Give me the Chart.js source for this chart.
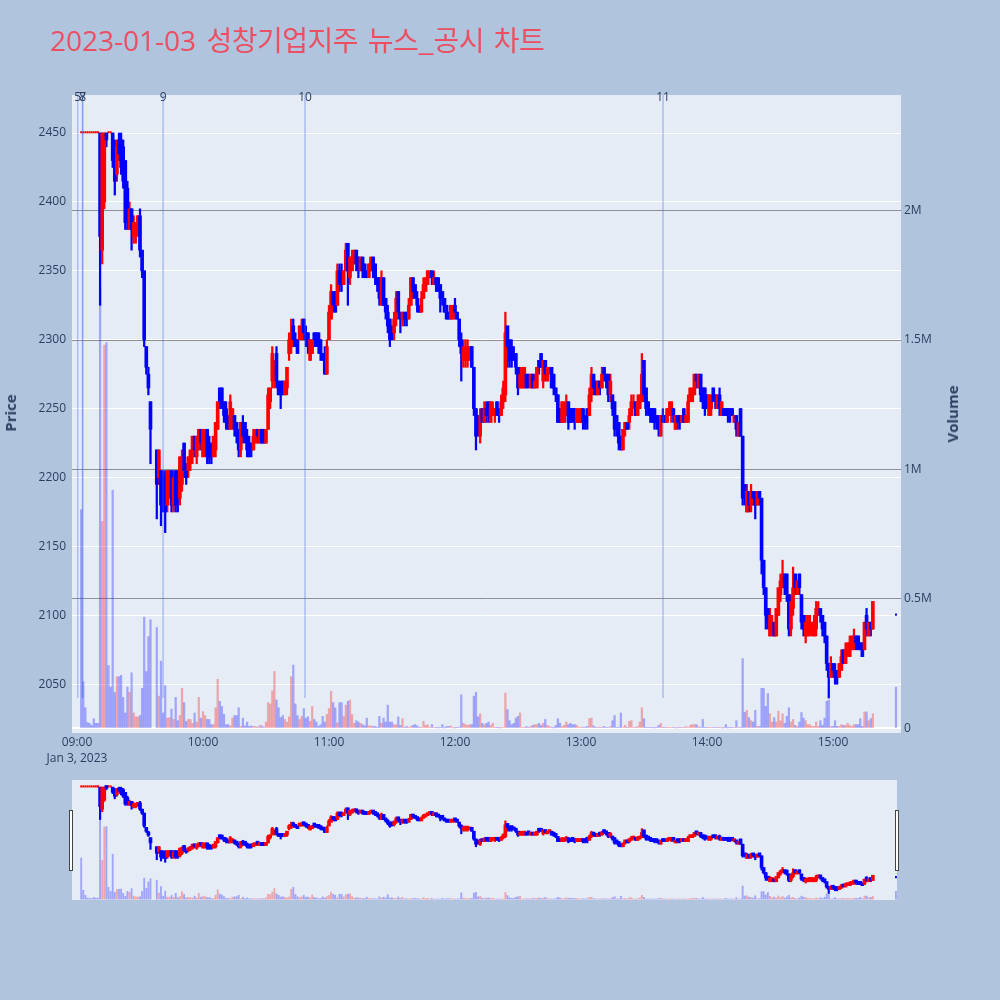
<!DOCTYPE html>
<html><head><meta charset="utf-8">
<script src="https://cdn.jsdelivr.net/npm/chart.js@4.4.0/dist/chart.umd.min.js"></script>
<style>
html,body{margin:0;padding:0;background:#b0c4de;width:1000px;height:1000px;overflow:hidden;font-family:"Open Sans","Noto Sans CJK KR",sans-serif;}
#wrap{position:relative;width:1000px;height:1000px;}
#main{position:absolute;left:0;top:0;}
#slider{position:absolute;left:72px;top:780px;}
.title{position:absolute;left:50px;top:25px;font-size:28px;line-height:28px;color:#ec4f62;white-space:nowrap;word-spacing:3px;}
.ko{font-family:"Noto Sans CJK KR","Open Sans",sans-serif;letter-spacing:-0.5px;word-spacing:4px;}
.axt{position:absolute;font-size:15px;font-weight:bold;color:#2a3f5f;white-space:nowrap;transform:translate(-50%,-50%) rotate(-90deg);}
.news{position:absolute;top:90px;font-size:12px;line-height:14px;color:#2a3f5f;transform:translateX(-50%);}
.handle{position:absolute;top:810px;width:2px;height:59px;background:#fff;border:1px solid #444;}
</style></head><body>
<div id="wrap">
<canvas id="main" width="1000" height="1000"></canvas>
<canvas id="slider" width="825" height="120"></canvas>
<div class="title">2023-01-03 <span class="ko">성창기업지주 뉴스_공시 차트</span></div>
<div class="axt" style="left:10px;top:413px;">Price</div>
<div class="axt" style="left:952px;top:414px;">Volume</div>
<div class="handle" style="left:69px;"></div>
<div class="handle" style="left:895px;"></div>
</div>
<script>
// ---------------- DATA ----------------
const times = [
'09:02','09:03','09:04','09:05','09:06','09:07','09:08','09:09',
'09:10','09:11','09:12','09:13','09:14','09:15','09:16','09:17','09:18','09:19',
'09:20','09:21','09:22','09:23','09:24','09:25','09:26','09:27','09:28','09:29',
'09:30','09:31','09:32','09:33','09:34','09:35','09:38','09:39',
'09:40','09:41','09:42','09:43','09:44','09:45','09:46','09:47','09:48','09:49',
'09:50','09:51','09:52','09:53','09:54','09:55','09:56','09:57','09:58','09:59',
'10:00','10:01','10:02','10:03','10:04','10:05','10:06','10:07','10:08','10:09',
'10:10','10:11','10:12','10:13','10:14','10:15','10:16','10:17','10:18','10:19',
'10:20','10:21','10:22','10:23','10:24','10:25','10:26','10:27','10:28','10:29',
'10:30','10:31','10:32','10:33','10:34','10:35','10:36','10:37','10:38','10:39',
'10:40','10:41','10:42','10:43','10:44','10:45','10:46','10:47','10:48','10:49',
'10:50','10:51','10:52','10:53','10:54','10:55','10:56','10:57','10:58','10:59',
'11:00','11:01','11:02','11:03','11:04','11:05','11:06','11:07','11:08','11:09',
'11:10','11:11','11:12','11:13','11:14','11:15','11:16','11:17','11:18','11:19',
'11:20','11:21','11:22','11:23','11:24','11:25','11:26','11:27','11:28','11:29',
'11:30','11:31','11:32','11:33','11:34','11:35','11:36','11:37','11:38','11:39',
'11:40','11:41','11:42','11:43','11:44','11:45','11:46','11:47','11:48','11:49',
'11:50','11:51','11:52','11:53','11:54','11:55','11:56','11:57','11:58','11:59',
'12:00','12:01','12:02','12:03','12:04','12:05','12:06','12:07','12:08','12:09',
'12:10','12:11','12:12','12:13','12:14','12:15','12:16','12:17','12:18','12:19',
'12:20','12:21','12:22','12:23','12:24','12:25','12:26','12:27','12:28','12:29',
'12:30','12:31','12:32','12:33','12:34','12:35','12:36','12:37','12:38','12:39',
'12:40','12:41','12:42','12:43','12:44','12:45','12:46','12:47','12:48','12:49',
'12:50','12:51','12:52','12:53','12:54','12:55','12:56','12:57','12:58','12:59',
'13:00','13:01','13:02','13:03','13:04','13:05','13:06','13:07','13:08','13:09',
'13:10','13:11','13:12','13:13','13:14','13:15','13:16','13:17','13:18','13:19',
'13:20','13:21','13:22','13:23','13:24','13:25','13:26','13:27','13:28','13:29',
'13:30','13:31','13:32','13:33','13:34','13:35','13:36','13:37','13:38','13:39',
'13:40','13:41','13:42','13:43','13:44','13:45','13:46','13:47','13:48','13:49',
'13:50','13:51','13:52','13:53','13:54','13:55','13:56','13:57','13:58','13:59',
'14:00','14:01','14:02','14:03','14:04','14:05','14:06','14:07','14:08','14:09',
'14:10','14:11','14:12','14:13','14:14','14:15','14:16','14:17','14:18','14:19',
'14:20','14:21','14:22','14:23','14:24','14:25','14:26','14:27','14:28','14:29',
'14:30','14:31','14:32','14:33','14:34','14:35','14:36','14:37','14:38','14:39',
'14:40','14:41','14:42','14:43','14:44','14:45','14:46','14:47','14:48','14:49',
'14:50','14:51','14:52','14:53','14:54','14:55','14:56','14:57','14:58','14:59',
'15:00','15:01','15:02','15:03','15:04','15:05','15:06','15:07','15:08','15:09',
'15:10','15:11','15:12','15:13','15:14','15:15','15:16','15:17','15:18','15:19',
'15:30'];

const opens = [
2450,2450,2450,2450,2450,2450,2450,2450,
2450,2450,2365,2400,2450,2450,2450,2450,2440,2420,
2445,2445,2440,2430,2410,2380,2395,2375,2375,2380,
2390,2365,2350,2295,2275,2255,2220,2200,
2205,2200,2190,2180,2185,2205,2180,2205,2195,2185,
2195,2225,2210,2205,2210,2215,2230,2215,2220,2235,
2215,2220,2235,2225,2225,2215,2220,2235,2265,2265,
2255,2250,2245,2235,2240,2245,2240,2230,2220,2240,
2240,2230,2225,2225,2220,2225,2235,2225,2235,2230,
2225,2235,2255,2270,2270,2290,2270,2265,2270,2260,
2265,2290,2295,2310,2300,2300,2300,2300,2315,2305,
2305,2285,2290,2305,2305,2305,2300,2290,2290,2275,
2300,2315,2335,2335,2325,2350,2350,2340,2350,2370,
2345,2350,2355,2365,2360,2350,2360,2355,2350,2345,
2350,2360,2355,2345,2345,2325,2345,2330,2320,2315,
2310,2305,2315,2335,2320,2315,2320,2320,2315,2325,
2345,2340,2330,2325,2320,2330,2335,2340,2345,2350,
2340,2345,2345,2340,2335,2330,2325,2320,2315,2315,
2325,2320,2315,2300,2285,2285,2285,2285,2295,2280,
2250,2245,2230,2250,2240,2250,2255,2240,2245,2245,
2255,2250,2245,2255,2260,2310,2300,2295,2290,2290,
2280,2265,2265,2265,2275,2275,2265,2275,2265,2265,
2285,2290,2270,2285,2270,2275,2280,2275,2265,2260,
2250,2240,2240,2245,2255,2250,2250,2250,2240,2240,
2240,2250,2245,2250,2245,2260,2275,2270,2260,2270,
2265,2280,2275,2275,2260,2260,2255,2245,2240,2230,
2220,2235,2240,2240,2245,2250,2255,2245,2250,2255,
2285,2265,2255,2250,2250,2250,2245,2245,2230,2245,
2245,2240,2245,2245,2250,2235,2245,2245,2240,2250,
2240,2240,2255,2255,2260,2275,2265,2275,2265,2265,
2260,2245,2250,2265,2260,2250,2260,2245,2250,2250,
2250,2250,2250,2240,2245,2230,2250,2230,2195,2175,
2190,2180,2190,2185,2180,2190,2185,2140,2120,2105,
2085,2090,2095,2085,2100,2115,2120,2130,2130,2115,
2090,2105,2130,2115,2130,2115,2100,2085,2085,2090,
2090,2085,2090,2100,2105,2100,2095,2085,2065,2055,
2065,2060,2060,2055,2060,2075,2065,2070,2070,2075,
2080,2085,2085,2080,2080,2075,2100,2085,2095,2090,
2100];

const highs = [
2450,2450,2450,2450,2450,2450,2450,2450,
2450,2450,2450,2450,2450,2450,2450,2450,2445,2445,
2450,2450,2445,2430,2415,2400,2395,2390,2385,2390,
2395,2365,2350,2295,2280,2255,2220,2220,
2205,2205,2205,2205,2205,2205,2205,2205,2205,2215,
2220,2225,2210,2215,2220,2230,2230,2230,2235,2235,
2235,2235,2235,2230,2225,2230,2240,2255,2265,2265,
2255,2255,2245,2260,2250,2245,2240,2235,2240,2245,
2240,2235,2230,2225,2235,2235,2235,2235,2235,2235,
2235,2265,2265,2295,2285,2295,2270,2270,2270,2270,
2280,2305,2315,2315,2305,2300,2310,2315,2315,2310,
2305,2300,2300,2305,2305,2305,2300,2290,2295,2300,
2325,2340,2335,2335,2355,2355,2355,2350,2370,2370,
2360,2365,2365,2365,2360,2360,2360,2355,2350,2355,
2360,2360,2355,2345,2345,2350,2345,2330,2325,2315,
2310,2320,2335,2335,2320,2320,2320,2320,2330,2345,
2345,2340,2335,2325,2335,2345,2345,2350,2350,2350,
2350,2345,2345,2340,2335,2330,2325,2320,2325,2325,
2330,2320,2315,2305,2300,2300,2300,2295,2295,2280,
2250,2245,2250,2250,2255,2255,2255,2255,2255,2250,
2255,2250,2260,2270,2320,2310,2300,2300,2295,2290,
2280,2280,2280,2280,2275,2275,2275,2275,2275,2280,
2285,2290,2285,2285,2280,2280,2280,2275,2265,2260,
2250,2255,2255,2260,2255,2250,2250,2250,2250,2250,
2250,2250,2245,2250,2265,2280,2275,2270,2270,2270,
2280,2280,2275,2275,2275,2260,2255,2245,2240,2230,
2235,2240,2240,2250,2260,2260,2255,2260,2260,2290,
2285,2265,2255,2250,2250,2250,2245,2245,2245,2250,
2245,2250,2255,2255,2250,2245,2245,2245,2245,2250,
2245,2260,2265,2265,2275,2275,2275,2275,2265,2265,
2260,2260,2260,2265,2260,2260,2265,2255,2250,2250,
2250,2250,2250,2245,2245,2240,2250,2230,2195,2195,
2190,2195,2190,2190,2190,2190,2185,2140,2120,2105,
2105,2100,2095,2105,2120,2130,2140,2130,2130,2115,
2115,2135,2130,2125,2130,2115,2100,2100,2100,2100,
2095,2100,2110,2110,2105,2100,2095,2085,2065,2070,
2065,2065,2060,2065,2075,2075,2080,2080,2085,2085,
2090,2085,2085,2080,2080,2095,2105,2095,2095,2110,
2100];

const lows = [
2450,2450,2450,2450,2450,2450,2450,2450,
2450,2325,2355,2395,2440,2450,2450,2425,2405,2415,
2430,2420,2410,2380,2380,2380,2365,2370,2370,2375,
2360,2345,2295,2275,2260,2210,2170,2195,
2165,2175,2160,2175,2185,2175,2175,2175,2175,2180,
2190,2200,2195,2200,2205,2210,2215,2210,2220,2220,
2215,2215,2210,2210,2210,2215,2215,2235,2250,2250,
2240,2235,2235,2235,2235,2230,2225,2215,2215,2225,
2225,2215,2215,2215,2220,2225,2225,2225,2225,2225,
2225,2235,2250,2265,2265,2265,2260,2250,2260,2260,
2260,2285,2290,2295,2295,2290,2300,2300,2300,2295,
2290,2285,2290,2295,2295,2290,2285,2285,2275,2275,
2300,2315,2320,2320,2325,2335,2335,2340,2350,2325,
2340,2350,2355,2350,2345,2350,2345,2345,2345,2345,
2350,2345,2340,2335,2325,2325,2325,2315,2305,2295,
2300,2300,2310,2315,2305,2310,2310,2310,2315,2325,
2330,2330,2320,2320,2320,2330,2335,2340,2345,2340,
2340,2335,2335,2320,2325,2320,2315,2315,2315,2315,
2315,2315,2295,2270,2280,2280,2280,2285,2280,2245,
2220,2230,2225,2240,2240,2240,2240,2240,2245,2240,
2245,2240,2245,2250,2255,2280,2280,2280,2285,2275,
2260,2265,2265,2265,2265,2265,2265,2265,2265,2265,
2275,2280,2265,2270,2270,2275,2265,2260,2255,2240,
2240,2240,2240,2245,2235,2240,2240,2235,2240,2240,
2240,2235,2235,2235,2245,2255,2260,2260,2260,2260,
2265,2270,2265,2255,2255,2245,2230,2230,2220,2220,
2220,2230,2235,2235,2245,2250,2245,2245,2250,2255,
2255,2245,2245,2240,2240,2235,2235,2230,2230,2240,
2240,2240,2245,2240,2240,2235,2235,2235,2240,2240,
2240,2240,2255,2255,2260,2265,2265,2255,2250,2245,
2250,2245,2245,2255,2250,2250,2245,2245,2245,2245,
2240,2240,2245,2240,2230,2230,2230,2180,2180,2175,
2175,2175,2180,2170,2180,2180,2130,2115,2090,2090,
2085,2085,2085,2085,2100,2110,2120,2115,2110,2085,
2085,2100,2115,2115,2115,2090,2085,2080,2085,2085,
2085,2085,2085,2100,2095,2085,2080,2060,2040,2055,
2055,2050,2050,2055,2060,2065,2065,2070,2070,2075,
2075,2075,2075,2075,2070,2075,2085,2085,2085,2090,
2100];

const closes = [
2450,2450,2450,2450,2450,2450,2450,2450,
2450,2375,2450,2450,2445,2450,2450,2430,2415,2440,
2435,2425,2415,2385,2390,2395,2380,2385,2385,2390,
2365,2350,2300,2280,2265,2235,2195,2220,
2180,2185,2175,2205,2205,2180,2200,2180,2185,2215,
2215,2205,2200,2215,2220,2230,2220,2230,2235,2225,
2235,2230,2215,2215,2215,2230,2240,2255,2255,2250,
2245,2240,2235,2255,2250,2235,2230,2220,2240,2230,
2230,2220,2215,2220,2230,2235,2230,2235,2225,2225,
2235,2260,2265,2290,2280,2270,2260,2260,2260,2270,
2280,2300,2305,2300,2295,2290,2310,2310,2305,2300,
2295,2300,2300,2300,2295,2295,2290,2285,2275,2295,
2320,2335,2325,2320,2350,2340,2340,2350,2365,2350,
2360,2360,2365,2355,2350,2360,2350,2345,2345,2355,
2360,2350,2345,2340,2330,2345,2325,2320,2310,2300,
2305,2315,2330,2320,2315,2320,2315,2315,2325,2345,
2335,2330,2325,2320,2330,2340,2345,2350,2350,2345,
2345,2340,2335,2330,2330,2320,2315,2315,2325,2320,
2320,2315,2300,2290,2295,2290,2295,2295,2280,2250,
2230,2235,2245,2240,2250,2245,2245,2255,2250,2250,
2245,2245,2255,2265,2305,2295,2285,2290,2285,2280,
2265,2275,2275,2280,2265,2270,2275,2265,2270,2280,
2280,2280,2285,2275,2280,2280,2265,2265,2260,2240,
2240,2255,2250,2255,2240,2240,2245,2240,2250,2245,
2250,2240,2240,2245,2260,2275,2265,2260,2270,2265,
2275,2275,2270,2260,2270,2250,2235,2235,2225,2220,
2235,2240,2235,2245,2255,2255,2245,2255,2260,2275,
2260,2250,2250,2245,2240,2240,2240,2235,2245,2240,
2240,2250,2250,2255,2245,2245,2240,2240,2245,2240,
2245,2255,2265,2260,2275,2270,2275,2260,2255,2250,
2250,2260,2255,2255,2255,2260,2250,2255,2245,2245,
2245,2245,2245,2245,2235,2240,2230,2185,2185,2190,
2180,2190,2185,2180,2190,2185,2140,2120,2100,2095,
2100,2095,2085,2105,2120,2125,2130,2120,2115,2090,
2110,2120,2120,2125,2120,2095,2090,2095,2095,2095,
2095,2095,2105,2105,2100,2090,2085,2065,2055,2065,
2060,2055,2055,2065,2070,2065,2075,2080,2080,2085,
2085,2080,2075,2075,2070,2095,2090,2095,2090,2110,
2100];

const volumes = [
845000,180000,80000,23000,20000,12000,38000,20000,
20000,1700000,800000,1480000,1490000,243000,160000,920000,140000,200000,
200000,205000,120000,60000,160000,140000,215000,60000,45000,45000,
50000,155000,430000,220000,355000,420000,390000,125000,
260000,60000,165000,40000,42000,75000,35000,120000,30000,50000,
155000,100000,27000,35000,35000,20000,60000,25000,120000,40000,
65000,50000,35000,35000,15000,15000,80000,190000,105000,85000,
55000,15000,15000,10000,40000,50000,50000,80000,8000,40000,
10000,25000,8000,10000,8000,8000,5000,12000,10000,5000,
25000,100000,95000,145000,220000,110000,80000,42000,50000,35000,
25000,45000,200000,245000,95000,50000,35000,47000,77000,40000,
45000,28000,85000,35000,25000,9000,15000,47000,25000,54000,
77000,144000,100000,80000,22000,100000,100000,47000,90000,105000,
110000,54000,20000,30000,25000,20000,15000,10000,40000,10000,
10000,8000,8000,5000,47000,20000,40000,25000,90000,25000,
25000,15000,15000,45000,12000,38000,3000,8000,5000,8000,
12000,15000,10000,5000,3000,28000,12000,15000,3000,15000,
3000,3000,2000,3000,15000,2000,8000,8000,10000,2000,
2000,3000,5000,130000,20000,15000,12000,15000,15000,125000,
140000,45000,57000,20000,15000,20000,25000,12000,20000,3000,
3000,2000,2000,5000,137000,73000,30000,15000,20000,40000,
47000,60000,3000,3000,8000,3000,8000,12000,15000,15000,
20000,12000,20000,35000,12000,8000,3000,2000,12000,38000,
20000,8000,12000,25000,15000,20000,15000,15000,12000,5000,
5000,5000,5000,8000,38000,40000,10000,5000,3000,5000,
5000,8000,3000,3000,8000,30000,50000,3000,5000,60000,
5000,12000,3000,28000,30000,3000,3000,8000,25000,80000,
38000,3000,3000,3000,3000,2000,3000,12000,20000,3000,
3000,3000,3000,3000,3000,2000,2000,3000,3000,3000,
8000,3000,12000,15000,15000,15000,8000,3000,35000,3000,
3000,3000,3000,3000,3000,3000,3000,2000,2000,15000,
2000,3000,3000,3000,30000,3000,3000,270000,63000,70000,
42000,30000,25000,70000,8000,8000,155000,155000,86000,135000,
57000,25000,42000,25000,67000,30000,57000,20000,47000,80000,
25000,35000,12000,8000,25000,62000,40000,30000,15000,15000,
8000,8000,25000,8000,30000,12000,40000,105000,110000,8000,
8000,30000,8000,8000,15000,12000,12000,20000,12000,8000,
15000,15000,15000,38000,8000,64000,64000,30000,38000,57000,
160000];

const xTickLabels = ['09:00','10:00','11:00','12:00','13:00','14:00','15:00'];
const xDateLabel = 'Jan 3, 2023';
const priceTicks = [2050,2100,2150,2200,2250,2300,2350,2400,2450];
const volumeTicks = [0,500000,1000000,1500000,2000000];
const volumeTickLabels = ['0','0.5M','1M','1.5M','2M'];
const newsTimes = ['09:00:20','09:02:40','09:02:40','09:41:00','10:48:35','13:39:05'];
const newsLabels = ['5','7','8','9','10','11'];

// ---------------- RENDER ----------------
const toMin = t => { const p = t.split(':').map(Number); return (p[0]-9)*60 + p[1] + (p[2]||0)/60; };
const xs = times.map(toMin);
const UP = '#ff0000', DOWN = '#0000ff';
const UPV = 'rgba(255,0,0,0.3)', DOWNV = 'rgba(0,0,255,0.3)';
const cCol = [], vCol = [], isFlat = [];
for (let k = 0; k < xs.length; k++) {
  const up = closes[k] > opens[k] || (closes[k] === opens[k] && (k === 0 || closes[k] >= closes[k-1]));
  cCol.push(up ? UP : DOWN);
  vCol.push(closes[k] > opens[k] ? UPV : DOWNV);
  isFlat.push(highs[k] === lows[k]);
}
function datasets(bodyW, wickW, volW, minBody, flatW) {
  return [
    {label:'body', data: xs.map((x,k)=>({x, y: isFlat[k] ? null : [opens[k], closes[k]]})), backgroundColor: cCol,
     barThickness: bodyW, minBarLength: minBody, yAxisID:'y', order:1, grouped:false},
    {label:'flat', data: xs.map((x,k)=>({x, y: isFlat[k] ? [opens[k], closes[k]] : null})), backgroundColor: cCol,
     barThickness: flatW, minBarLength: 1.5, yAxisID:'y', order:1, grouped:false},
    {label:'wick', data: xs.map((x,k)=>({x, y: isFlat[k] ? null : [lows[k], highs[k]]})), backgroundColor: cCol,
     barThickness: wickW, minBarLength: 1, yAxisID:'y', order:2, grouped:false},
    {label:'volume', data: xs.map((x,k)=>({x, y: volumes[k]})), backgroundColor: vCol,
     barThickness: volW, yAxisID:'y2', order:3, grouped:false}
  ];
}
Chart.defaults.font.family = '"Open Sans", sans-serif';
Chart.defaults.font.size = 12;
Chart.defaults.color = '#2a3f5f';

const PRICE_MIN = 2014.6, PRICE_MAX = 2477.6, VOL_MIN = -17400, VOL_MAX = 2446000;
const bgPlugin = { id:'bg', beforeDraw(c){ const a=c.chartArea, g=c.ctx; g.save(); g.fillStyle='#e5ecf6'; g.fillRect(a.left,a.top,a.right-a.left,a.bottom-a.top); g.restore(); } };
const newsPlugin = { id:'news', afterDatasetsDraw(c){
  const g=c.ctx, a=c.chartArea, sx=c.scales.x, sy=c.scales.y;
  const yb = sy.getPixelForValue(Math.min(...lows));
  g.save(); g.strokeStyle='rgba(70,110,230,0.38)'; g.lineWidth=1.5;
  newsTimes.forEach(t=>{ const px=sx.getPixelForValue(toMin(t)); g.beginPath(); g.moveTo(px,a.top); g.lineTo(px,yb); g.stroke(); });
  g.restore(); } };

const mainChart = new Chart(document.getElementById('main'), {
  type:'bar',
  data:{ datasets: datasets(3, 1.6, 1.6, 2, 1.3) },
  options:{
    responsive:false, animation:false,
    layout:{ padding:{left:0, right:0, top:95, bottom:0} },
    plugins:{ legend:{display:false}, tooltip:{enabled:false} },
    datasets:{ bar:{ grouped:false } },
    scales:{
      x:{ type:'linear', min:-2.38, max:392.4, offset:false,
          grid:{display:false, drawTicks:false, offset:false}, border:{display:false},
          afterBuildTicks: s => { s.ticks = xTickLabels.map(l=>({value: toMin(l)})); },
          ticks:{ autoSkip:false, maxRotation:0, padding:1, font:{size:12, lineHeight:1.35},
                  callback:(v,i)=> i===0 ? [xTickLabels[0], xDateLabel] : xTickLabels[i] },
          afterFit: s => { s.height = 267; } },
      y:{ position:'left', min:PRICE_MIN, max:PRICE_MAX,
          grid:{color:'#ffffff', lineWidth:1, drawTicks:false}, border:{display:false},
          afterBuildTicks: s => { s.ticks = priceTicks.map(v=>({value:v})); },
          ticks:{ padding:6, callback: v => String(v) },
          afterFit: s => { s.width = 72; } },
      y2:{ position:'right', min:VOL_MIN, max:VOL_MAX,
          grid:{ color: ctx => ctx.tick && ctx.tick.value===0 ? '#ffffff' : '#8d9097',
                 lineWidth: ctx => ctx.tick && ctx.tick.value===0 ? 2 : 1, drawTicks:false },
          border:{display:false},
          afterBuildTicks: s => { s.ticks = volumeTicks.map(v=>({value:v})); },
          ticks:{ padding:3, callback: (v) => volumeTickLabels[volumeTicks.indexOf(v)] },
          afterFit: s => { s.width = 99; } }
    }
  },
  plugins:[bgPlugin, newsPlugin]
});

const sliderChart = new Chart(document.getElementById('slider'), {
  type:'bar',
  data:{ datasets: datasets(3, 1.5, 1.2, 3, 1.3) },
  options:{
    responsive:false, animation:false,
    layout:{ padding:0 },
    plugins:{ legend:{display:false}, tooltip:{enabled:false} },
    datasets:{ bar:{ grouped:false } },
    scales:{
      x:{ type:'linear', min:-2.38, max:390.5, offset:false, display:false },
      y:{ min:PRICE_MIN, max:PRICE_MAX, display:false },
      y2:{ min:VOL_MIN, max:VOL_MAX, display:false }
    }
  },
  plugins:[bgPlugin]
});

// news labels as text, placed with the chart's x scale
const wrap = document.getElementById('wrap');
newsTimes.forEach((t,k)=>{
  const d = document.createElement('div');
  d.className = 'news';
  d.textContent = newsLabels[k];
  d.style.left = mainChart.scales.x.getPixelForValue(toMin(t)) + 'px';
  wrap.appendChild(d);
});
</script>
</body></html>
